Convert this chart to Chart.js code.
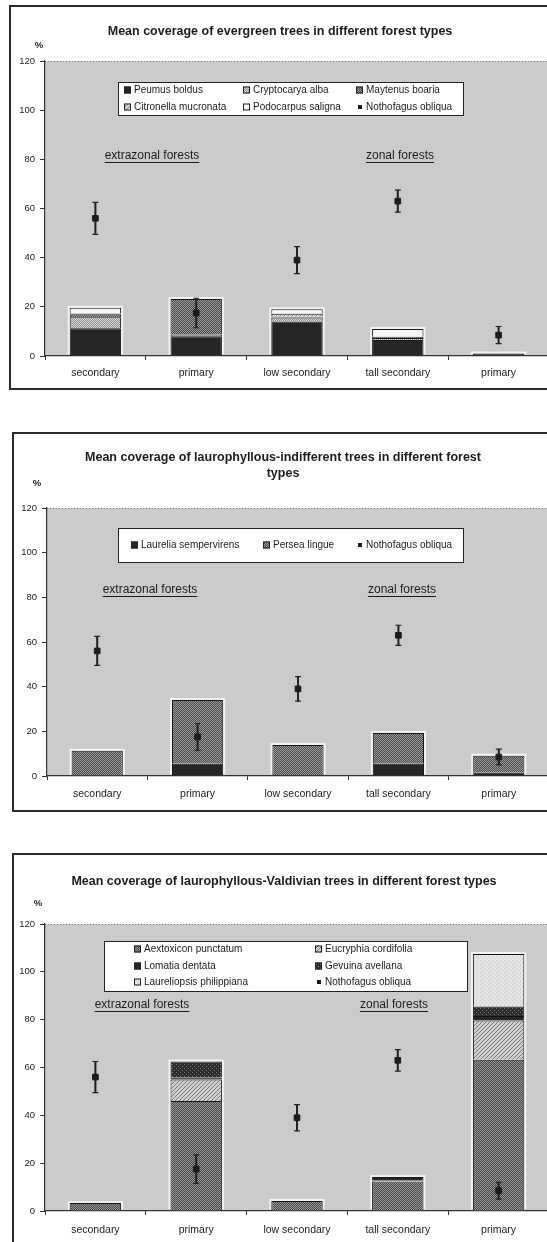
<!DOCTYPE html>
<html>
<head>
<meta charset="utf-8">
<script src="https://cdn.jsdelivr.net/npm/chart.js@4.4.1/dist/chart.umd.min.js"></script>
<style>
  html, body { margin: 0; padding: 0; background: #fff; width: 547px; height: 1242px; overflow: hidden; position: relative; }
  .frame { position: absolute; border: 2px solid #2a2a2a; box-sizing: border-box; width: 620px; background: #fff; }
  canvas { position: absolute; left: 0; }
</style>
</head>
<body>
<div class="frame" style="left:9px; top:5px; height:385px;"></div>
<div class="frame" style="left:12px; top:432px; height:380px;"></div>
<div class="frame" style="left:12px; top:853px; height:420px;"></div>
<canvas id="c1" width="549" height="392" style="top:0px"></canvas>
<canvas id="c2" width="549" height="386" style="top:428px"></canvas>
<canvas id="c3" width="549" height="394" style="top:848px"></canvas>
<script>
// categorias e valores
const forestTypes = ['secondary', 'primary', 'low secondary', 'tall secondary', 'primary'];
const yTicks = [0, 20, 40, 60, 80, 100, 120];

// Nothofagus obliqua: média e erro (igual nos três gráficos)
const nothoMean = [56, 17.5, 39, 63, 8.5];
const nothoErr = [6.5, 6, 5.5, 4.5, 3.5];

// gráfico 1 - evergreen
const peumusBoldus = [11.3, 8, 14, 6.5, 1];
const cryptocaryaAlba = [4.5, 0.7, 1.7, 0.8, 0];
const maytenusBoaria = [1.2, 14.5, 0.3, 0.5, 0];
const citronellaMucronata = [0.3, 0, 1.2, 0, 0];
const podocarpusSaligna = [2.3, 0, 1.8, 3.2, 0];

// gráfico 2 - laurophyllous-indifferent
const laureliaSempervirens = [0, 5.5, 0.3, 5.5, 1.5];
const perseaLingue = [11.3, 28.5, 13.6, 13.8, 7.6];

// gráfico 3 - laurophyllous-Valdivian
const aextoxiconPunctatum = [3.3, 46, 4.2, 12.3, 63.2];
const eucryphiaCordifolia = [0, 9, 0, 0.5, 16.4];
const lomatiaDentata = [0, 0.8, 0, 1.4, 1.9];
const gevuinaAvellana = [0, 6.7, 0, 0, 4];
const laureliopsisPhilippiana = [0, 0, 0, 0, 22];

const FONT = '"Liberation Sans", Arial, sans-serif';
const INK = '#1c1c1c';
Chart.defaults.font.family = FONT;
Chart.defaults.color = INK;

// padrões em tons de cinza (hachuras do Excel)
function pattern(bg, fg, cells) {
  const c = document.createElement('canvas');
  c.width = 4; c.height = 4;
  const g = c.getContext('2d');
  g.fillStyle = bg; g.fillRect(0, 0, 4, 4);
  g.fillStyle = fg;
  cells.forEach(([x, y]) => g.fillRect(x, y, 1, 1));
  return g.createPattern(c, 'repeat');
}
const CHECK = [[0,0],[2,0],[1,1],[3,1],[0,2],[2,2],[1,3],[3,3]];
const DIAG = [[0,3],[1,2],[2,1],[3,0]];
const DOTS = [[0,0],[2,2]];

const solidDark = '#262626';

function species(label, data, fill) {
  return {
    label, data,
    backgroundColor: fill,
    borderColor: '#151515',
    borderWidth: 1,
    stack: 'species',
    categoryPercentage: 1,
    barPercentage: 0.51
  };
}

// ponto médio + barra de erro (barra flutuante fina não agrupada)
function nothoSets() {
  return [
    { type: 'line', label: 'Nothofagus obliqua', data: nothoMean, showLine: false,
      pointStyle: 'rect', pointRadius: 4, pointBackgroundColor: INK, pointBorderColor: INK,
      stack: 'mean', order: -2 },
    { type: 'bar', label: 'whisker', data: nothoMean.map((m, i) => [m - nothoErr[i], m + nothoErr[i]]),
      grouped: false, barThickness: 1.4, backgroundColor: '#222', borderWidth: 0,
      stack: 'err', order: -1 },
    { type: 'line', label: 'capHi', data: nothoMean.map((m, i) => m + nothoErr[i]), showLine: false,
      pointStyle: 'line', pointRadius: 3, pointBorderColor: '#222', pointBorderWidth: 1.2,
      stack: 'hi', order: -1 },
    { type: 'line', label: 'capLo', data: nothoMean.map((m, i) => m - nothoErr[i]), showLine: false,
      pointStyle: 'line', pointRadius: 3, pointBorderColor: '#222', pointBorderWidth: 1.2,
      stack: 'lo', order: -1 }
  ];
}

// fundo cinza, título, notas e legenda dentro da área do gráfico
const decor = {
  id: 'decor',
  beforeDraw(chart) {
    const { ctx, chartArea: a } = chart;
    ctx.save();
    ctx.fillStyle = '#cbcbcb';
    ctx.fillRect(a.left, a.top, a.right - a.left, a.bottom - a.top);
    ctx.strokeStyle = '#777';
    ctx.setLineDash([1, 2]);
    ctx.beginPath(); ctx.moveTo(a.left, a.top + 0.5); ctx.lineTo(a.right, a.top + 0.5); ctx.stroke();
    ctx.restore();
  },
  // halo claro em volta de cada coluna empilhada (como no original)
  beforeDatasetsDraw(chart) {
    const ctx = chart.ctx;
    const metas = chart.getSortedVisibleDatasetMetas().filter(m => m.type === 'bar' && m._dataset.stack === 'species');
    ctx.save();
    ctx.fillStyle = '#f2f2f2';
    chart.data.labels.forEach((_, i) => {
      let top = Infinity, bottom = -Infinity, cx = 0, w = 0;
      metas.forEach(m => {
        const el = m.data[i];
        if (!el) return;
        const p = el.getProps(['x', 'y', 'base', 'width'], true);
        top = Math.min(top, p.y, p.base);
        bottom = Math.max(bottom, p.y, p.base);
        cx = p.x; w = p.width;
      });
      if (bottom - top > 0.5) ctx.fillRect(cx - w / 2 - 2, top - 2, w + 4, bottom - top + 1);
    });
    ctx.restore();
  },
  afterDraw(chart, args, o) {
    const ctx = chart.ctx;
    ctx.save();
    ctx.fillStyle = INK;
    ctx.textBaseline = 'middle';
    ctx.textAlign = 'center';
    ctx.font = 'bold 12.5px ' + FONT;
    o.title.forEach((t, i) => ctx.fillText(t, o.titleX, o.titleY + i * 16));
    ctx.font = 'bold 9.5px ' + FONT;
    ctx.fillText('%', o.pct[0], o.pct[1]);

    ctx.font = '12px ' + FONT;
    o.notes.forEach(n => {
      ctx.fillText(n.text, n.x, n.y);
      const w = ctx.measureText(n.text).width;
      ctx.fillRect(n.x - w / 2, n.y + 6, w, 1);
    });

    const [bx, by, bw, bh] = o.box;
    ctx.fillStyle = '#fff';
    ctx.fillRect(bx, by, bw, bh);
    ctx.strokeStyle = '#222';
    ctx.lineWidth = 1;
    ctx.strokeRect(bx + 0.5, by + 0.5, bw, bh);
    ctx.font = '10px ' + FONT;
    ctx.textAlign = 'left';
    o.items.forEach(it => {
      const ds = chart.data.datasets.find(d => d.label === it.label);
      if (ds.type === 'line') {
        ctx.fillStyle = INK;
        ctx.fillRect(it.x + 2, it.y - 2, 4, 4);
      } else {
        ctx.fillStyle = ds.backgroundColor;
        ctx.fillRect(it.x, it.y - 3.5, 7, 7);
        ctx.strokeRect(it.x + 0.5, it.y - 3, 6, 6);
      }
      ctx.fillStyle = INK;
      ctx.fillText(it.label, it.x + 10, it.y + 0.5);
    });
    ctx.restore();
  }
};

function makeChart(id, datasets, lay, decorOpts) {
  const canvas = document.getElementById(id);
  return new Chart(canvas, {
    type: 'bar',
    data: { labels: forestTypes, datasets },
    plugins: [decor],
    options: {
      responsive: false,
      animation: false,
      devicePixelRatio: 1,
      events: [],
      layout: { autoPadding: false, padding: { top: lay.top, left: 0, right: 0, bottom: 0 } },
      plugins: {
        legend: { display: false },
        title: { display: false },
        tooltip: { enabled: false },
        decor: decorOpts
      },
      scales: {
        x: {
          stacked: true,
          offset: true,
          grid: { offset: true, drawOnChartArea: false, tickLength: 4, color: '#333' },
          border: { color: '#333', width: 1.2 },
          ticks: { font: { size: 10.5 }, padding: lay.xPad, maxRotation: 0, autoSkip: false, color: INK },
          afterFit: s => { s.height = lay.xh; s.paddingRight = 0; s.paddingLeft = 0; }
        },
        y: {
          stacked: true,
          min: 0, max: 120,
          afterBuildTicks: s => { s.ticks = yTicks.map(v => ({ value: v })); },
          ticks: { font: { size: 9.5 }, padding: 5, color: INK },
          grid: { drawOnChartArea: false, tickLength: 5, color: '#333' },
          border: { color: '#333', width: 1.2 },
          afterFit: s => { s.width = lay.yw; }
        }
      }
    }
  });
}

// gráfico 1
makeChart('c1', [
  species('Peumus boldus', peumusBoldus, solidDark),
  species('Cryptocarya alba', cryptocaryaAlba, pattern('#8e8e8e', '#d8d8d8', CHECK)),
  species('Maytenus boaria', maytenusBoaria, pattern('#454545', '#9e9e9e', CHECK)),
  species('Citronella mucronata', citronellaMucronata, pattern('#d6d6d6', '#8a8a8a', DIAG)),
  species('Podocarpus saligna', podocarpusSaligna, '#f6f6f6'),
  ...nothoSets()
], { top: 61, xh: 36, yw: 45, xPad: 7 }, {
  title: ['Mean coverage of evergreen trees in different forest types'],
  titleX: 280, titleY: 32,
  pct: [39, 45],
  notes: [{ text: 'extrazonal forests', x: 152, y: 156 }, { text: 'zonal forests', x: 400, y: 156 }],
  box: [118, 82, 345, 33],
  items: [
    { label: 'Peumus boldus', x: 124, y: 90 },
    { label: 'Cryptocarya alba', x: 243, y: 90 },
    { label: 'Maytenus boaria', x: 356, y: 90 },
    { label: 'Citronella mucronata', x: 124, y: 107 },
    { label: 'Podocarpus saligna', x: 243, y: 107 },
    { label: 'Nothofagus obliqua', x: 356, y: 107 }
  ]
});

// gráfico 2
makeChart('c2', [
  species('Laurelia sempervirens', laureliaSempervirens, solidDark),
  species('Persea lingue', perseaLingue, pattern('#4a4a4a', '#9c9c9c', CHECK)),
  ...nothoSets()
], { top: 80, xh: 38, yw: 47, xPad: 8 }, {
  title: ['Mean coverage of laurophyllous-indifferent trees in different forest', 'types'],
  titleX: 283, titleY: 30,
  pct: [37, 55],
  notes: [{ text: 'extrazonal forests', x: 150, y: 162 }, { text: 'zonal forests', x: 402, y: 162 }],
  box: [118, 100, 345, 34],
  items: [
    { label: 'Laurelia sempervirens', x: 131, y: 117 },
    { label: 'Persea lingue', x: 263, y: 117 },
    { label: 'Nothofagus obliqua', x: 356, y: 117 }
  ]
});

// gráfico 3
makeChart('c3', [
  species('Aextoxicon punctatum', aextoxiconPunctatum, pattern('#474747', '#989898', CHECK)),
  species('Eucryphia cordifolia', eucryphiaCordifolia, pattern('#cfcfcf', '#7a7a7a', DIAG)),
  species('Lomatia dentata', lomatiaDentata, solidDark),
  species('Gevuina avellana', gevuinaAvellana, pattern('#2c2c2c', '#7c7c7c', DOTS)),
  species('Laureliopsis philippiana', laureliopsisPhilippiana, pattern('#e4e4e4', '#c4c4c4', DOTS)),
  ...nothoSets()
], { top: 76, xh: 31, yw: 45, xPad: 9 }, {
  title: ['Mean coverage of laurophyllous-Valdivian trees in different forest types'],
  titleX: 284, titleY: 34,
  pct: [38, 55],
  notes: [{ text: 'extrazonal forests', x: 142, y: 157 }, { text: 'zonal forests', x: 394, y: 157 }],
  box: [104, 93, 363, 50],
  items: [
    { label: 'Aextoxicon punctatum', x: 134, y: 101 },
    { label: 'Eucryphia cordifolia', x: 315, y: 101 },
    { label: 'Lomatia dentata', x: 134, y: 118 },
    { label: 'Gevuina avellana', x: 315, y: 118 },
    { label: 'Laureliopsis philippiana', x: 134, y: 134 },
    { label: 'Nothofagus obliqua', x: 315, y: 134 }
  ]
});
</script>
</body>
</html>
